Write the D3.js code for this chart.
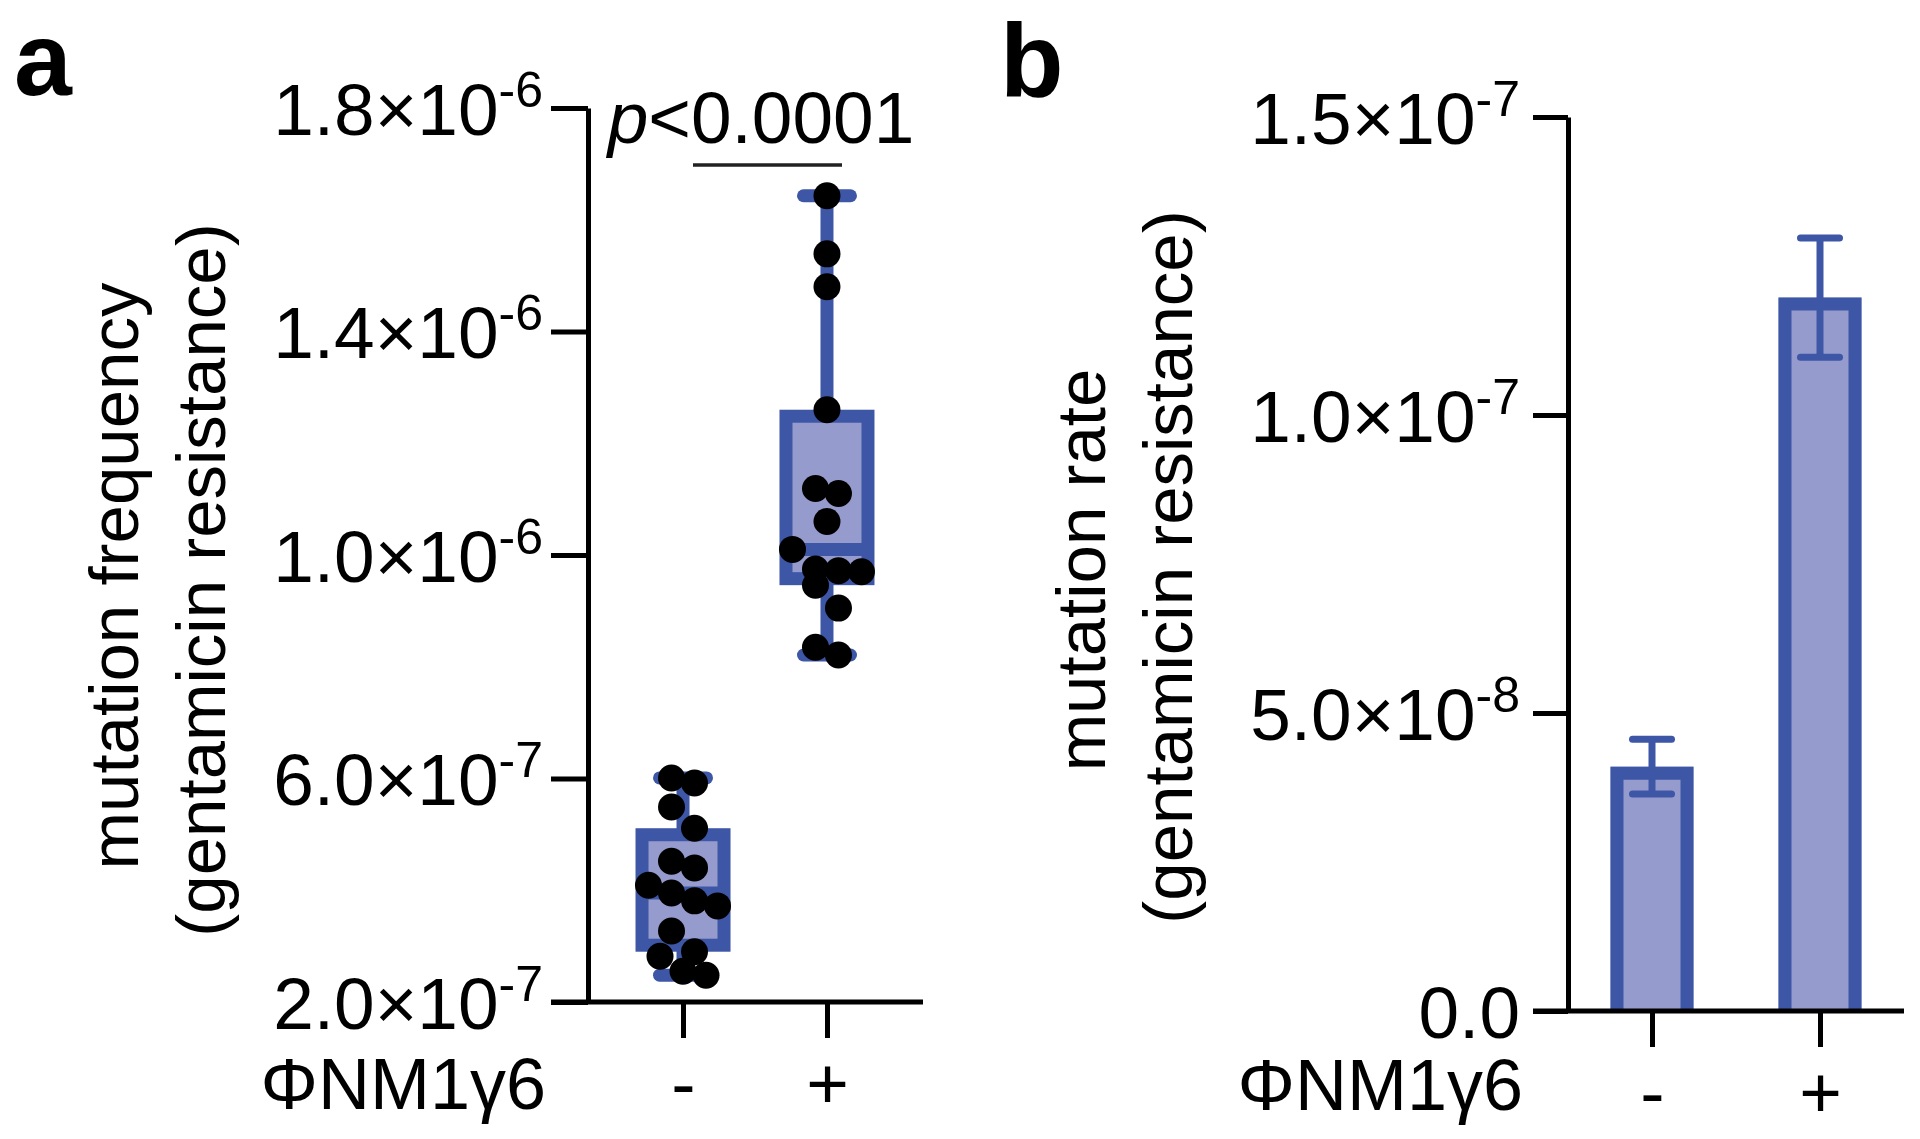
<!DOCTYPE html>
<html>
<head>
<meta charset="utf-8">
<script src="https://cdn.jsdelivr.net/npm/d3@7/dist/d3.min.js"></script>
<style>
  html, body { margin: 0; padding: 0; background: #fff; }
  svg { display: block; font-family: "Liberation Sans", Arial, Helvetica, sans-serif; }
</style>
</head>
<body>
<svg id="chart" width="1920" height="1139"></svg>
<script>
// ---------------- DATA ----------------
const groups = ['-', '+'];
const xGroupLabel = 'ΦNM1γ6';

// Panel a: mutation frequency (individual replicates)
const freqMinus = [6.01e-7, 5.92e-7, 5.49e-7, 5.11e-7, 4.52e-7, 4.40e-7, 4.09e-7, 3.95e-7,
                   3.81e-7, 3.72e-7, 3.27e-7, 2.90e-7, 2.82e-7, 2.55e-7, 2.48e-7];
const freqPlus  = [1.643e-6, 1.539e-6, 1.480e-6, 1.260e-6, 1.119e-6, 1.110e-6, 1.060e-6, 1.010e-6,
                   0.975e-6, 0.972e-6, 0.970e-6, 0.946e-6, 0.905e-6, 0.835e-6, 0.821e-6];
const yTicksA = [2e-7, 6e-7, 1.0e-6, 1.4e-6, 1.8e-6];
const yTickMantA = ['2.0×10', '6.0×10', '1.0×10', '1.4×10', '1.8×10'];
const yTickExpA  = ['-7', '-7', '-6', '-6', '-6'];
const pText = '<0.0001';

// Panel b: mutation rate (mean ± error)
const rateMean = [4.1e-8, 1.197e-7];
const rateErr  = [0.46e-8, 1.0e-8];
const yTicksB = [0, 5e-8, 1.0e-7, 1.5e-7];
const yTickMantB = ['0.0', '5.0×10', '1.0×10', '1.5×10'];
const yTickExpB  = ['', '-8', '-7', '-7'];

// ---------------- STYLE ----------------
const BLUE = '#3e56a6';
const LIGHT = '#969bcd';
const TICK_FS = 73, SUP_FS = 50, TITLE_FS = 69;

const svg = d3.select('#chart');

function styleAxis(g) {
  g.selectAll('.domain').attr('stroke', '#000').attr('stroke-width', 5);
  g.selectAll('.tick line').attr('stroke', '#000').attr('stroke-width', 5);
}

function supLabels(g, mant, exp) {
  g.selectAll('.tick text').each(function(d, i) {
    const t = d3.select(this);
    t.text('').attr('dy', null).attr('y', 26).attr('fill', '#000');
    t.append('tspan').text(mant[i]);
    if (exp[i]) t.append('tspan').attr('font-size', SUP_FS).attr('dy', -28).text(exp[i]);
  });
}

// Prism-style quartile ((n+1)p position)
function quart(sorted, p) {
  const n = sorted.length;
  const pos = (n + 1) * p;
  const lo = Math.max(1, Math.min(n, Math.floor(pos)));
  const hi = Math.max(1, Math.min(n, Math.ceil(pos)));
  const f = pos - Math.floor(pos);
  return sorted[lo - 1] + (sorted[hi - 1] - sorted[lo - 1]) * f;
}

// ================= PANEL A =================
const yA = d3.scaleLinear().domain([2e-7, 1.8e-6]).range([1002, 108]);
const xA = d3.scalePoint().domain(groups).range([588, 922]).padding(0.66);
const axA = 588, baseA = 1002;

const gA = svg.append('g');

const dataA = [freqMinus, freqPlus];
dataA.forEach((vals, gi) => {
  const cx = xA(groups[gi]);
  const s = vals.slice().sort(d3.ascending);
  const mn = s[0], mx = s[s.length - 1];
  const q1 = quart(s, 0.25), med = quart(s, 0.5), q3 = quart(s, 0.75);
  const g = gA.append('g');
  g.append('line').attr('x1', cx).attr('x2', cx).attr('y1', yA(mx)).attr('y2', yA(q3) + 6)
    .attr('stroke', BLUE).attr('stroke-width', 13);
  g.append('line').attr('x1', cx).attr('x2', cx).attr('y1', yA(q1) - 6).attr('y2', yA(mn))
    .attr('stroke', BLUE).attr('stroke-width', 13);
  [mx, mn].forEach(v => {
    g.append('line').attr('x1', cx - 23.5).attr('x2', cx + 23.5).attr('y1', yA(v)).attr('y2', yA(v))
      .attr('stroke', BLUE).attr('stroke-width', 13).attr('stroke-linecap', 'round');
  });
  g.append('rect').attr('x', cx - 47.5 + 6.5).attr('width', 95 - 13)
    .attr('y', yA(q3) + 6.5).attr('height', yA(q1) - yA(q3) - 13)
    .attr('fill', LIGHT).attr('stroke', BLUE).attr('stroke-width', 13);
  g.append('line').attr('x1', cx - 41).attr('x2', cx + 41).attr('y1', yA(med)).attr('y2', yA(med))
    .attr('stroke', BLUE).attr('stroke-width', 13);

  const desc = vals.slice().sort(d3.descending);
  const rows = [];
  desc.forEach(v => {
    const py = yA(v);
    const last = rows[rows.length - 1];
    if (last && py - last.y0 < 23.5) last.items.push(v);
    else rows.push({ y0: py, items: [v] });
  });
  rows.forEach(r => {
    const n = r.items.length;
    r.items.forEach((v, i) => {
      g.append('circle').attr('cx', cx + (i - (n - 1) / 2) * 23).attr('cy', yA(v))
        .attr('r', 13.5).attr('fill', '#000');
    });
  });
});

const yAxisA = gA.append('g').attr('transform', `translate(${axA},0)`)
  .call(d3.axisLeft(yA).tickValues(yTicksA).tickSize(37).tickSizeOuter(0).tickPadding(8))
  .attr('font-size', TICK_FS).attr('font-family', null);
styleAxis(yAxisA);
supLabels(yAxisA, yTickMantA, yTickExpA);

const xAxisA = gA.append('g').attr('transform', `translate(0,${baseA})`)
  .call(d3.axisBottom(xA).tickSize(36).tickSizeOuter(0))
  .attr('font-size', TICK_FS).attr('font-family', null);
styleAxis(xAxisA);
xAxisA.select('.domain').remove();
xAxisA.selectAll('.tick text').attr('y', 106).attr('dy', null).attr('fill', '#000');
gA.append('line').attr('x1', 551).attr('x2', 923).attr('y1', baseA).attr('y2', baseA)
  .attr('stroke', '#000').attr('stroke-width', 5);
gA.append('text').attr('x', 546).attr('y', 1109).attr('font-size', 72)
  .attr('text-anchor', 'end').text(xGroupLabel);

gA.append('text').attr('transform', 'translate(138,576) rotate(-90)')
  .attr('text-anchor', 'middle').attr('font-size', TITLE_FS).text('mutation frequency');
gA.append('text').attr('transform', 'translate(225,580) rotate(-90)')
  .attr('text-anchor', 'middle').attr('font-size', TITLE_FS).text('(gentamicin resistance)');

gA.append('line').attr('x1', 693).attr('x2', 842).attr('y1', 165).attr('y2', 165)
  .attr('stroke', '#222').attr('stroke-width', 3.5);
const pt = gA.append('text').attr('x', 761).attr('y', 143).attr('text-anchor', 'middle')
  .attr('font-size', TICK_FS);
pt.append('tspan').attr('font-style', 'italic').text('p');
pt.append('tspan').text(pText);

svg.append('text').attr('x', 14).attr('y', 95).attr('font-size', 104).attr('font-weight', 'bold').text('a');

// ================= PANEL B =================
const yB = d3.scaleLinear().domain([0, 1.5e-7]).range([1011, 117]);
const xB = d3.scalePoint().domain(groups).range([1568, 1904]).padding(0.5);
const axB = 1568, baseB = 1011;
const gB = svg.append('g');

groups.forEach((k, i) => {
  const cx = xB(k);
  const x0 = cx - 41.5, x1 = cx + 41.5;
  const yt = yB(rateMean[i]);
  gB.append('rect').attr('x', x0).attr('width', x1 - x0).attr('y', yt).attr('height', baseB - yt)
    .attr('fill', LIGHT);
  gB.append('path')
    .attr('d', `M${x0 + 6.5},${baseB} L${x0 + 6.5},${yt + 6.5} L${x1 - 6.5},${yt + 6.5} L${x1 - 6.5},${baseB}`)
    .attr('fill', 'none').attr('stroke', BLUE).attr('stroke-width', 13);
  const hi = yB(rateMean[i] + rateErr[i]), lo = yB(rateMean[i] - rateErr[i]);
  gB.append('line').attr('x1', cx).attr('x2', cx).attr('y1', hi).attr('y2', lo)
    .attr('stroke', BLUE).attr('stroke-width', 7);
  [hi, lo].forEach(yy => {
    gB.append('line').attr('x1', cx - 19.5).attr('x2', cx + 19.5).attr('y1', yy).attr('y2', yy)
      .attr('stroke', BLUE).attr('stroke-width', 7).attr('stroke-linecap', 'round');
  });
});

const yAxisB = gB.append('g').attr('transform', `translate(${axB},0)`)
  .call(d3.axisLeft(yB).tickValues(yTicksB).tickSize(35).tickSizeOuter(0).tickPadding(13))
  .attr('font-size', TICK_FS).attr('font-family', null);
styleAxis(yAxisB);
supLabels(yAxisB, yTickMantB, yTickExpB);

const xAxisB = gB.append('g').attr('transform', `translate(0,${baseB})`)
  .call(d3.axisBottom(xB).tickSize(36).tickSizeOuter(0))
  .attr('font-size', TICK_FS).attr('font-family', null);
styleAxis(xAxisB);
xAxisB.select('.domain').remove();
xAxisB.selectAll('.tick text').attr('y', 106).attr('dy', null).attr('fill', '#000');
gB.append('line').attr('x1', 1533).attr('x2', 1904).attr('y1', baseB).attr('y2', baseB)
  .attr('stroke', '#000').attr('stroke-width', 5);
gB.append('text').attr('x', 1523).attr('y', 1110).attr('font-size', 72)
  .attr('text-anchor', 'end').text(xGroupLabel);

gB.append('text').attr('transform', 'translate(1105,570) rotate(-90)')
  .attr('text-anchor', 'middle').attr('font-size', TITLE_FS).text('mutation rate');
gB.append('text').attr('transform', 'translate(1192,567) rotate(-90)')
  .attr('text-anchor', 'middle').attr('font-size', TITLE_FS).text('(gentamicin resistance)');

svg.append('text').attr('x', 1000).attr('y', 96).attr('font-size', 104).attr('font-weight', 'bold').text('b');
</script>
</body>
</html>
